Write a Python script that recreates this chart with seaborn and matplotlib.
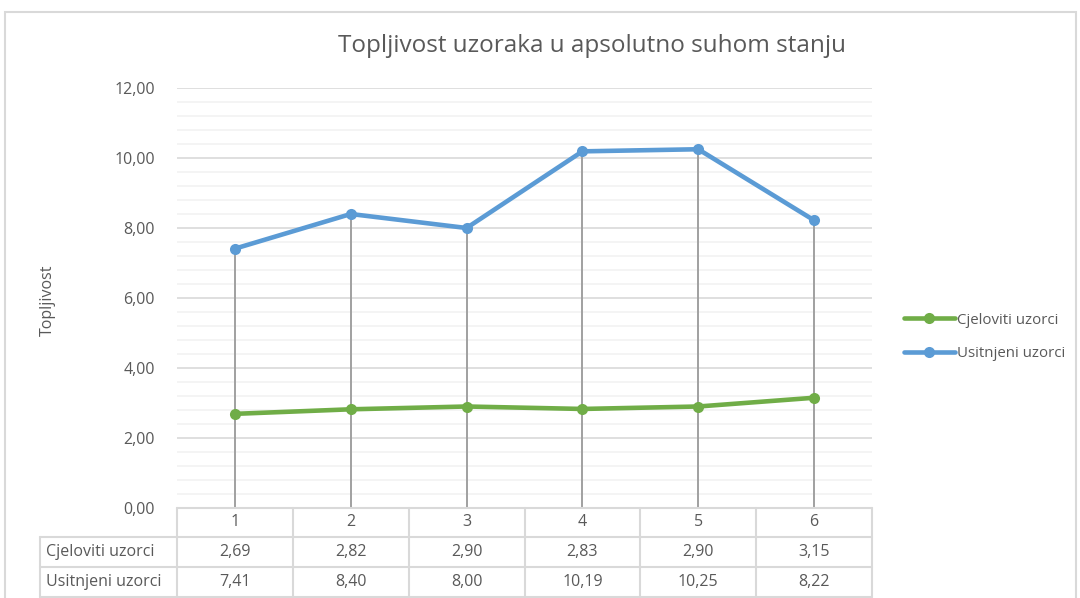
import matplotlib
matplotlib.use("Agg")
import matplotlib.pyplot as plt
import seaborn as sns
import pandas as pd
import numpy as np
from matplotlib.patches import Rectangle
from matplotlib.lines import Line2D

categories = [1, 2, 3, 4, 5, 6]
cjeloviti = [2.69, 2.82, 2.90, 2.83, 2.90, 3.15]
usitnjeni = [7.41, 8.40, 8.00, 10.19, 10.25, 8.22]
series_names = ["Cjeloviti uzorci", "Usitnjeni uzorci"]
yticks = [0, 2, 4, 6, 8, 10, 12]

title = "Topljivost uzoraka u apsolutno suhom stanju"
ylabel = "Topljivost"

sns.set_theme(style="white")
plt.rcParams['font.family'] = ['Open Sans', 'DejaVu Sans']

W, H = 1080, 598
fig = plt.figure(figsize=(W / 100, H / 100), dpi=100)

def fx(px):
    return px / W

def fy(py):
    return 1 - py / H

left_px, right_px, top_px, bot_px = 177, 872, 88, 508
ax = fig.add_axes([fx(left_px), fy(bot_px), fx(right_px - left_px), (bot_px - top_px) / H])

df = pd.DataFrame({
    "x": categories * 2,
    "y": cjeloviti + usitnjeni,
    "s": [series_names[0]] * 6 + [series_names[1]] * 6,
})
colors = {"Cjeloviti uzorci": "#70AD47", "Usitnjeni uzorci": "#5B9BD5"}

# drop lines
tops = [max(a, b) for a, b in zip(cjeloviti, usitnjeni)]
ax.vlines(categories, 0, tops, color="#A0A0A0", lw=1.4, zorder=1)

sns.lineplot(data=df, x="x", y="y", hue="s", palette=colors, marker="o",
             markersize=8, markeredgewidth=0, linewidth=3.3, ax=ax, legend=False,
             zorder=3)

ax.set_xlim(0.5, 6.5)
ax.set_ylim(0, 12)
ax.set_yticks(yticks)
ax.set_yticklabels([f"{v:.2f}".replace(".", ",") for v in yticks], color="#595959", fontsize=11.5)
ax.set_yticks(np.arange(0, 12.01, 0.4), minor=True)
ax.grid(axis="y", which="major", color="#D9D9D9", lw=1.2, zorder=0)
ax.grid(axis="y", which="minor", color="#F2F2F2", lw=1.2, zorder=0)
ax.set_axisbelow(True)
ax.set_xticks([])
ax.set_xlabel("")
ax.set_ylabel("")
ax.tick_params(axis="y", which="both", length=0, pad=16)
for sp in ax.spines.values():
    sp.set_visible(False)

# y label
fig.text(fx(48), fy(300), ylabel, rotation=90, ha="center", va="center",
         color="#595959", fontsize=11.5)

# title
fig.text(fx(592), fy(46), title, ha="center", va="center", color="#595959", fontsize=17.5)

# outer border
fig.add_artist(Rectangle((fx(5), fy(640)), fx(1071), (640 - 12) / H, transform=fig.transFigure,
                         fill=False, edgecolor="#D9D9D9", lw=1.5))

# data table
tc = "#D9D9D9"
col_edges = [left_px + i * (right_px - left_px) / 6 for i in range(7)]
row_edges = [508, 537, 567, 597]
fig.add_artist(Line2D([fx(left_px), fx(right_px)], [fy(508), fy(508)], color=tc, lw=1.5))
for ry in row_edges[1:]:
    fig.add_artist(Line2D([fx(40), fx(right_px)], [fy(ry), fy(ry)], color=tc, lw=1.5))
fig.add_artist(Line2D([fx(40), fx(40)], [fy(537), fy(597)], color=tc, lw=1.5))
for cx in col_edges:
    fig.add_artist(Line2D([fx(cx), fx(cx)], [fy(508), fy(597)], color=tc, lw=1.5))

tfs = 11.5
tcol = "#595959"
for i, c in enumerate(categories):
    xc = (col_edges[i] + col_edges[i + 1]) / 2
    fig.text(fx(xc), fy(522.5), str(c), ha="center", va="center", color=tcol, fontsize=tfs)
    fig.text(fx(xc), fy(552), f"{cjeloviti[i]:.2f}".replace(".", ","), ha="center", va="center", color=tcol, fontsize=tfs)
    fig.text(fx(xc), fy(582), f"{usitnjeni[i]:.2f}".replace(".", ","), ha="center", va="center", color=tcol, fontsize=tfs)
fig.text(fx(46), fy(552), series_names[0], ha="left", va="center", color=tcol, fontsize=tfs)
fig.text(fx(46), fy(582), series_names[1], ha="left", va="center", color=tcol, fontsize=tfs)

# legend
handles = [Line2D([], [], color=colors[n], lw=3.3, marker="o", markersize=8, markeredgewidth=0)
           for n in series_names]
fig.legend(handles, series_names, loc="center left", bbox_to_anchor=(fx(890), fy(337)),
           frameon=False, fontsize=10.8, labelcolor="#595959", handlelength=3.4,
           handletextpad=0.15, labelspacing=1.25)

fig.savefig("out.png", dpi=100, facecolor="white")
